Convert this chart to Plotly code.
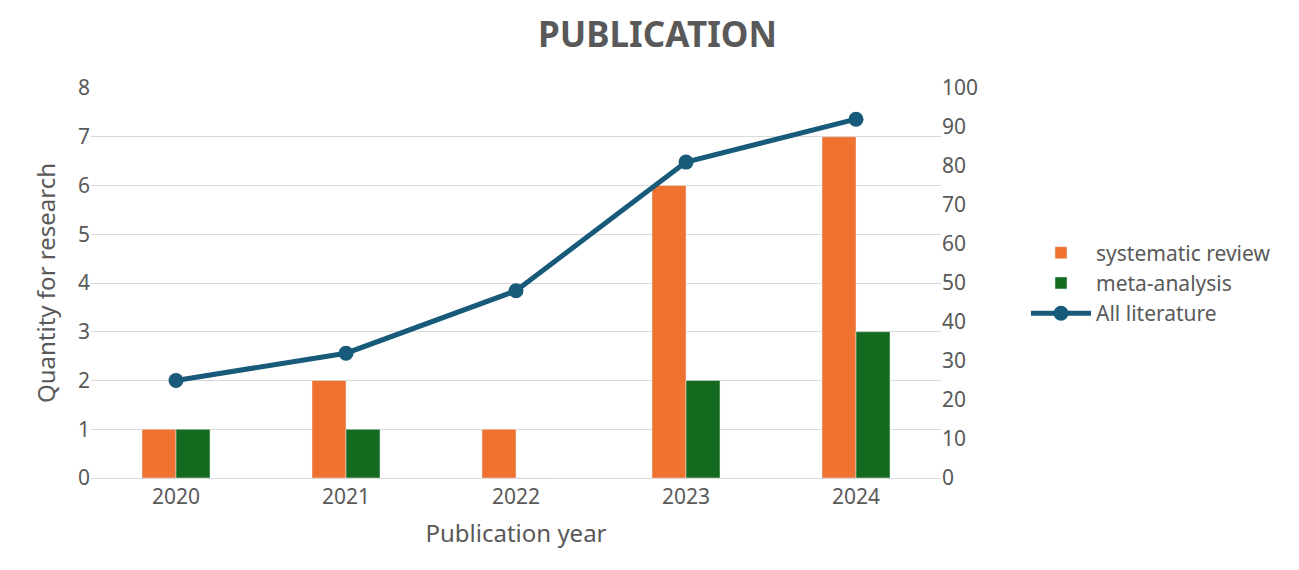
import plotly.graph_objects as go

years = ["2020", "2021", "2022", "2023", "2024"]
systematic_review = [1, 2, 1, 6, 7]
meta_analysis = [1, 1, 0, 2, 3]
all_literature = [25, 32, 48, 81, 92]

fig = go.Figure()
fig.add_trace(go.Bar(x=years, y=systematic_review, name="systematic review",
                     marker_color="#F07230", width=0.2, offsetgroup="a"))
fig.add_trace(go.Bar(x=years, y=meta_analysis, name="meta-analysis",
                     marker_color="#146B1F", width=0.2, offsetgroup="b"))
fig.add_trace(go.Scatter(x=years, y=all_literature, name="All literature", yaxis="y2",
                         mode="lines+markers", line=dict(color="#175A7A", width=5),
                         marker=dict(size=15, color="#175A7A")))

fig.update_layout(
    width=1299, height=570,
    font=dict(family="Noto Sans", size=21, color="#595959"),
    title=dict(text="<b>PUBLICATION</b>", x=0.5, xanchor="center", y=0.975,
               font=dict(size=35, color="#595959")),
    plot_bgcolor="white", paper_bgcolor="white",
    margin=dict(l=83, r=366, t=80, b=100),
    bargap=0.6, bargroupgap=0,
    xaxis=dict(title=dict(text="Publication year", font=dict(size=24)),
               showline=True, linecolor="#d9d9d9", ticks=""),
    yaxis=dict(title=dict(text="Quantity for research", font=dict(size=24)),
               range=[0, 8], dtick=1, gridcolor="#d9d9d9", zeroline=False),
    yaxis2=dict(overlaying="y", side="right", range=[0, 100], dtick=10,
                showgrid=False, zeroline=False),
    legend=dict(x=1.1, y=0.5, xanchor="left", yanchor="middle",
                font=dict(size=21), itemwidth=60),
)
fig.write_html("out.html")
